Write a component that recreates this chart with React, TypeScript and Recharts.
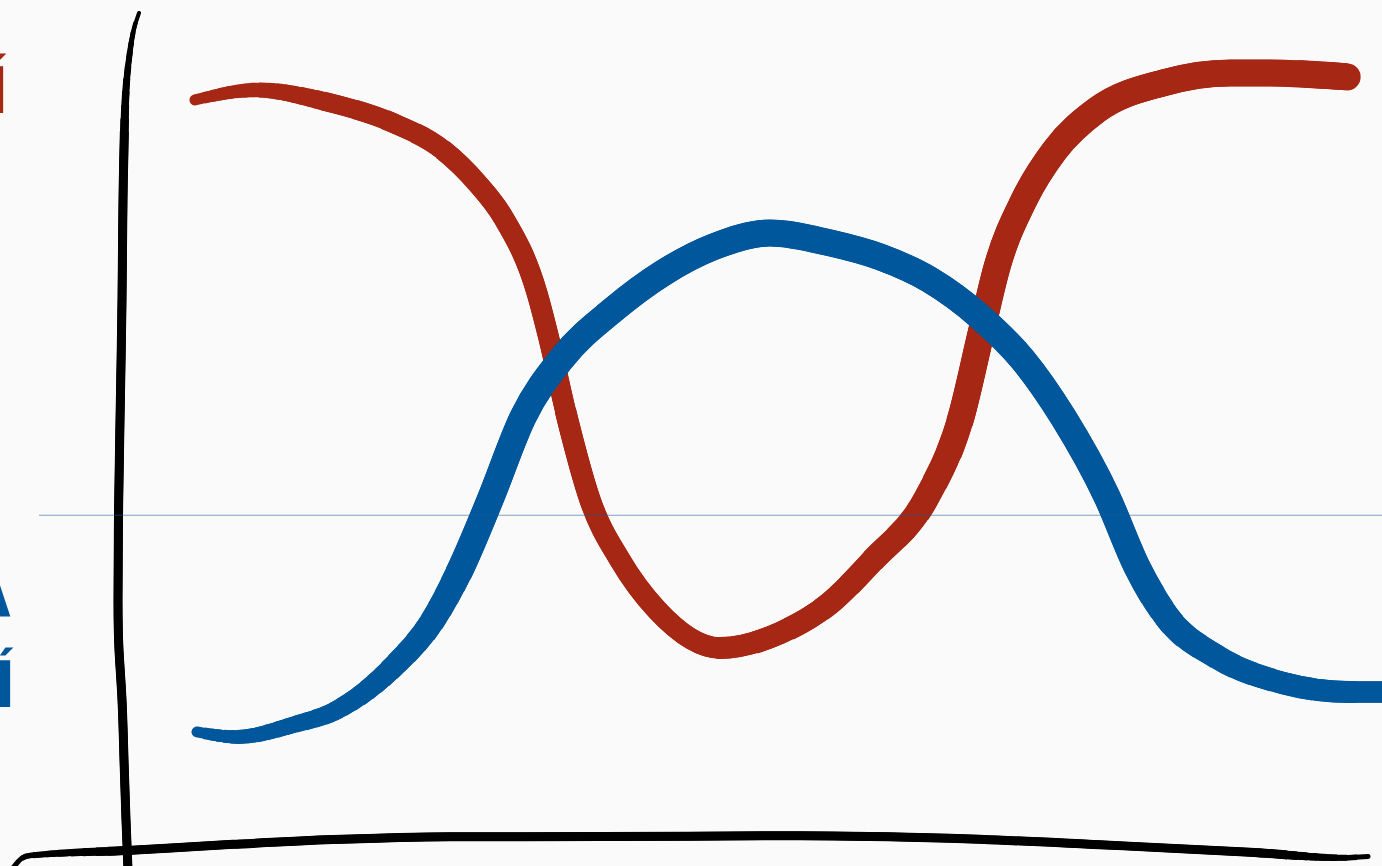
import { ComposedChart, Line, XAxis, YAxis, ReferenceLine } from "recharts";

const RED = "#A52714";
const BLUE = "#01579B";
const BIG = 100000;

// red series (x, y)
const RED_X = [1.834, 2.417, 3.076, 3.697, 4.167, 4.487, 4.731, 5.051, 5.155, 5.333, 5.55, 5.832, 6.18, 6.773, 7.337, 7.807, 8.212, 8.72, 9.04, 9.228, 9.378, 9.632, 9.925, 10.319, 10.94, 11.57, 11.918, 12.671];
const RED_Y = [4.796, 4.911, 4.772, 4.53, 4.218, 3.837, 3.445, 2.567, 2.082, 1.135, 0.177, -0.517, -1.094, -1.533, -1.36, -1.014, -0.517, 0.212, 1.135, 2.105, 2.867, 3.641, 4.219, 4.681, 4.993, 5.108, 5.108, 5.062];

// blue series
const BLUE_X = [1.853, 2.229, 2.756, 3.17, 3.697, 4.073, 4.327, 4.609, 4.92, 5.296, 5.766, 6.237, 6.707, 7.243, 7.807, 8.278, 8.748, 9.218, 9.623, 9.999, 10.413, 10.695, 10.977, 11.448, 12.069, 12.699, 13.169];
const BLUE_Y = [-2.502, -2.56, -2.421, -2.248, -1.752, -1.209, -0.632, 0.177, 1.135, 1.828, 2.371, 2.798, 3.098, 3.26, 3.145, 2.983, 2.717, 2.292, 1.793, 1.135, 0.212, -0.597, -1.175, -1.637, -1.937, -2.041, -2.041];

// hand drawn axes
const AXIS_Y_X = [1.3075, 1.2511, 1.204, 1.1758, 1.157, 1.1476, 1.1288, 1.1147, 1.11, 1.1194, 1.1476, 1.1664, 1.1852, 1.204];
const AXIS_Y_Y = [5.8, 5.569, 5.176, 4.68, 3.641, 2.486, 1.1, -0.008, -0.978, -1.555, -2.133, -2.826, -3.519, -4.097];
const AXIS_X_X = [0.122, 0.207, 0.282, 1.195, 2.192, 3.132, 4.233, 5.644, 7.525, 8.936, 10.347, 11.758, 12.605, 12.868];
const AXIS_X_Y = [-4.073, -3.96, -3.93, -3.87, -3.8, -3.745, -3.712, -3.71, -3.7, -3.73, -3.805, -3.89, -3.955, -3.94];

const BASELINE_Y = 0;
const BASELINE_FROM = 0.367;

const RED_LABELS = ["Í"];
const BLUE_LABELS = ["Á", "Í"];

const zip = (xs: number[], ys: number[]) => xs.map((x, i) => ({ x, y: ys[i] }));

const redData = zip(RED_X, RED_Y);
const blueData = zip(BLUE_X, BLUE_Y);
const axisYData = zip(AXIS_Y_X, AXIS_Y_Y);
const axisXData = zip(AXIS_X_X, AXIS_X_Y);

type Stop = { from: number; to?: number; width: number; cap?: "round" | "butt" };
type Knot = [number, number]; // [length along path in px, pen width]

function widthAt(profile: Knot[], s: number) {
  if (s <= profile[0][0]) return profile[0][1];
  for (let i = 1; i < profile.length; i++) {
    const [s1, w1] = profile[i];
    const [s0, w0] = profile[i - 1];
    if (s <= s1) return w0 + ((w1 - w0) * (s - s0)) / (s1 - s0);
  }
  return profile[profile.length - 1][1];
}

// many thin layers so the pen width changes smoothly
function stopsFromProfile(profile: Knot[], endCap = false): Stop[] {
  const end = profile[profile.length - 1][0];
  const widths = profile.map((p) => p[1]);
  const base = Math.min(...widths);
  const max = Math.max(...widths);
  const stops: Stop[] = [{ from: 0, width: base }];
  for (let w = base + 0.5; w <= max + 1e-9; w += 0.5) {
    let first = -1;
    let last = -1;
    for (let s = 0; s <= end; s += 1) {
      if (widthAt(profile, s) >= w - 1e-9) {
        if (first < 0) first = s;
        last = s;
      }
    }
    if (first < 0) continue;
    stops.push({ from: first, to: last >= end ? undefined : last, width: w });
  }
  if (endCap) stops.push({ from: end, width: widthAt(profile, end), cap: "round" });
  return stops;
}

function penStroke(key: string, data: { x: number; y: number }[], color: string, stops: Stop[], curve: "monotone" | "natural") {
  return stops.map((s, i) => {
    const dashed = s.from > 0 || s.to !== undefined;
    const cap = s.cap ?? (dashed ? "butt" : "round");
    return (
      <Line
        key={`${key}-${i}`}
        data={data}
        dataKey="y"
        type={curve}
        stroke={color}
        strokeWidth={s.width}
        strokeLinecap={cap}
        strokeLinejoin="round"
        strokeDasharray={dashed ? `${(s.to ?? BIG) - s.from} ${BIG}` : undefined}
        strokeDashoffset={dashed ? -s.from : undefined}
        dot={false}
        activeDot={false}
        legendType="none"
        isAnimationActive={false}
      />
    );
  });
}

const redStops = stopsFromProfile(
  [[0, 11], [130, 19], [260, 21], [850, 22], [1000, 24], [1200, 27], [1760, 27]],
  true
);
const blueStops = stopsFromProfile([
  [0, 11], [40, 14], [100, 17], [220, 23], [330, 27], [1380, 27], [1450, 25], [1530, 23], [1700, 21],
]);
const axisYStops = stopsFromProfile([[0, 4], [40, 6], [120, 9], [900, 9]]);
const axisXStops = stopsFromProfile([[0, 5], [100, 9], [1280, 9], [1360, 5]]);

const labelFont = { fontFamily: "DejaVu Sans Condensed, DejaVu Sans", fontWeight: 700, fontSize: 64 };

export default function App() {
  return (
    <div style={{ position: "fixed", left: 0, top: 0, width: 1382, height: 866, overflow: "hidden", background: "#fafafa" }}>
      <ComposedChart width={1414} height={866} margin={{ top: 0, right: 0, bottom: 0, left: 0 }}>
        <XAxis type="number" dataKey="x" domain={[0, 13.3]} allowDataOverflow hide />
        <YAxis type="number" domain={[-4.05, 5.95]} allowDataOverflow hide />
        {penStroke("axis-y", axisYData, "#000", axisYStops, "natural")}
        {penStroke("axis-x", axisXData, "#000", axisXStops, "monotone")}
        {penStroke("red", redData, RED, redStops, "monotone")}
        {penStroke("blue", blueData, BLUE, blueStops, "monotone")}
        <ReferenceLine
          segment={[{ x: BASELINE_FROM, y: BASELINE_Y }, { x: 13.3, y: BASELINE_Y }]}
          stroke="#1f5a9a"
          strokeOpacity={0.55}
          strokeWidth={1.2}
        />
      </ComposedChart>
      <svg width={1382} height={866} style={{ position: "absolute", left: 0, top: 0, pointerEvents: "none" }}>
        <text x={-13} y={113} fill={RED} {...labelFont}>{RED_LABELS[0]}</text>
        <text x={-34} y={617} fill={BLUE} {...labelFont}>{BLUE_LABELS[0]}</text>
        <text x={-6} y={707} fill={BLUE} {...labelFont}>{BLUE_LABELS[1]}</text>
      </svg>
    </div>
  );
}
